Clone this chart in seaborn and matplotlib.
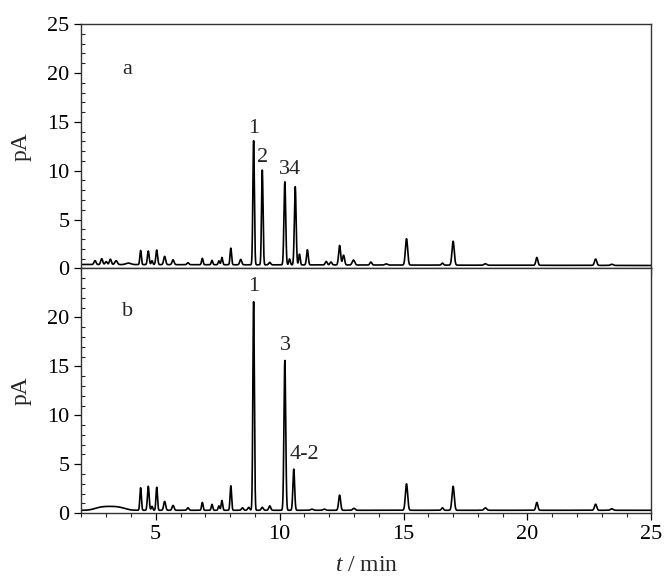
import numpy as np
import pandas as pd
import matplotlib
matplotlib.use("Agg")
import matplotlib.pyplot as plt
from matplotlib.ticker import MultipleLocator
from matplotlib import font_manager
import seaborn as sns

# ---- peak tables (retention time, height, width sigma) ----
a_rt = [2.55, 2.82, 3.0, 3.17, 3.4, 3.9, 4.39, 4.7, 4.85, 5.04, 5.36, 5.7, 6.3, 6.88, 7.27, 7.55, 7.67, 8.03,
        8.43, 8.95, 9.3, 9.6, 10.21, 10.4, 10.63, 10.8, 11.12, 11.88, 12.07, 12.42, 12.58, 12.98, 13.68,
        14.3, 15.12, 16.57, 17.0, 18.3, 20.38, 22.75, 23.4]
a_h = [0.4, 0.6, 0.3, 0.55, 0.4, 0.15, 1.45, 1.4, 0.4, 1.5, 0.85, 0.5, 0.2, 0.65, 0.45, 0.4, 0.75, 1.7,
       0.55, 12.7, 9.7, 0.25, 8.5, 0.6, 8.0, 1.1, 1.55, 0.35, 0.3, 2.0, 1.0, 0.5, 0.3,
       0.12, 2.7, 0.2, 2.45, 0.15, 0.8, 0.65, 0.12]
a_w = [0.04, 0.04, 0.04, 0.04, 0.05, 0.1, 0.03, 0.035, 0.03, 0.035, 0.04, 0.04, 0.04, 0.03, 0.03, 0.03, 0.03, 0.03,
       0.04, 0.03, 0.03, 0.04, 0.035, 0.03, 0.035, 0.03, 0.035, 0.04, 0.04, 0.04, 0.04, 0.05, 0.04,
       0.05, 0.045, 0.04, 0.045, 0.05, 0.04, 0.045, 0.05]

b_rt = [2.7, 3.0, 3.3, 3.6, 4.39, 4.7, 4.85, 5.04, 5.36, 5.7, 6.3, 6.88, 7.27, 7.55, 7.67, 8.03, 8.5, 8.75,
        8.95, 9.3, 9.6, 10.21, 10.57, 11.3, 11.8, 12.42, 13.0, 15.12, 16.57, 17.0, 18.3, 20.38, 22.75, 23.4]
b_h = [0.2, 0.22, 0.22, 0.2, 2.3, 2.45, 0.4, 2.35, 0.9, 0.5, 0.25, 0.8, 0.6, 0.45, 1.0, 2.5, 0.25, 0.3,
       21.3, 0.3, 0.45, 15.3, 4.2, 0.12, 0.12, 1.55, 0.2, 2.7, 0.25, 2.45, 0.25, 0.8, 0.62, 0.15]
b_w = [0.22, 0.22, 0.22, 0.22, 0.03, 0.035, 0.03, 0.03, 0.04, 0.04, 0.04, 0.03, 0.03, 0.03, 0.03, 0.03, 0.04, 0.04,
       0.03, 0.04, 0.04, 0.035, 0.035, 0.05, 0.05, 0.04, 0.05, 0.045, 0.04, 0.045, 0.05, 0.04, 0.045, 0.05]

a_base = [0.4, 0.35, 0.3]      # baseline at start / middle / end
b_base = [0.3, 0.3, 0.3]

a_labels = ["1", "2", "34"]
a_label_t = [8.95, 9.3, 10.42]
a_label_y = [13.4, 10.4, 9.2]
b_labels = ["1", "3", "4-2"]
b_label_t = [8.95, 10.22, 11.0]
b_label_y = [22.2, 16.2, 5.0]

x_ticks = [5, 10, 15, 20, 25]
y_ticks_a = [0, 5, 10, 15, 20, 25]
y_ticks_b = [0, 5, 10, 15, 20]


def trace(rt, h, w, base):
    t = np.linspace(2.0, 25.0, 4601)
    y = np.interp(t, [2.0, 13.5, 25.0], base)
    for r, hh, ww in zip(rt, h, w):
        y = y + hh * np.exp(-0.5 * ((t - r) / ww) ** 2)
    return pd.DataFrame({"t": t, "pA": y})


df_a = trace(a_rt, a_h, a_w, a_base)
df_b = trace(b_rt, b_h, b_w, b_base)

sns.set_style("ticks")
names = {f.name for f in font_manager.fontManager.ttflist}
serif = [n for n in ["Liberation Serif", "Times New Roman", "DejaVu Serif"] if n in names]
plt.rcParams["font.family"] = "serif"
plt.rcParams["font.serif"] = serif
plt.rcParams["mathtext.fontset"] = "custom"
plt.rcParams["mathtext.it"] = serif[0] + ":italic"
plt.rcParams["mathtext.rm"] = serif[0]

fig = plt.figure(figsize=(6.66, 5.76), dpi=100)
L, R = 0.1222, 0.978
ax_a = fig.add_axes([L, 0.534, R - L, 0.958 - 0.534])
ax_b = fig.add_axes([L, 0.109, R - L, 0.534 - 0.109])

for ax, df in ((ax_a, df_a), (ax_b, df_b)):
    sns.lineplot(data=df, x="t", y="pA", ax=ax, color="black", linewidth=1.2)
    ax.set_xlim(2, 25)
    ax.set_ylim(0, 25)
    ax.xaxis.set_major_locator(MultipleLocator(5))
    ax.xaxis.set_minor_locator(MultipleLocator(1))
    ax.yaxis.set_minor_locator(MultipleLocator(1))
    ax.tick_params(axis="both", which="major", direction="out", length=5, width=0.9,
                   labelsize=16, colors="black", top=False, right=False)
    ax.tick_params(axis="x", which="minor", direction="out", length=3, width=0.8, top=False)
    ax.tick_params(axis="y", which="minor", direction="in", length=3, width=0.8, right=False)
    for s in ax.spines.values():
        s.set_color("#333333")
        s.set_linewidth(1.0)
    ax.set_ylabel("pA", fontsize=17)

ax_a.set_xticks(x_ticks)
ax_a.set_xticklabels([])
ax_a.set_xlabel("")
ax_a.set_yticks(y_ticks_a)
ax_b.set_xticks(x_ticks)
ax_b.set_yticks(y_ticks_b)
ax_b.set_xlabel(r"$\mathit{t}$ / min", fontsize=17, labelpad=8)

ax_a.text(3.85, 20.4, "a", fontsize=16, ha="center", va="center")
ax_b.text(3.85, 20.6, "b", fontsize=16, ha="center", va="center")

for s, t, y in zip(a_labels, a_label_t, a_label_y):
    ax_a.text(t, y, s, fontsize=16, ha="center", va="bottom")
for s, t, y in zip(b_labels, b_label_t, b_label_y):
    ax_b.text(t, y, s, fontsize=16, ha="center", va="bottom")

ax_a.yaxis.set_label_coords(-0.088, 0.5)
ax_b.yaxis.set_label_coords(-0.088, 0.5)

fig.savefig("out.png", dpi=100)
